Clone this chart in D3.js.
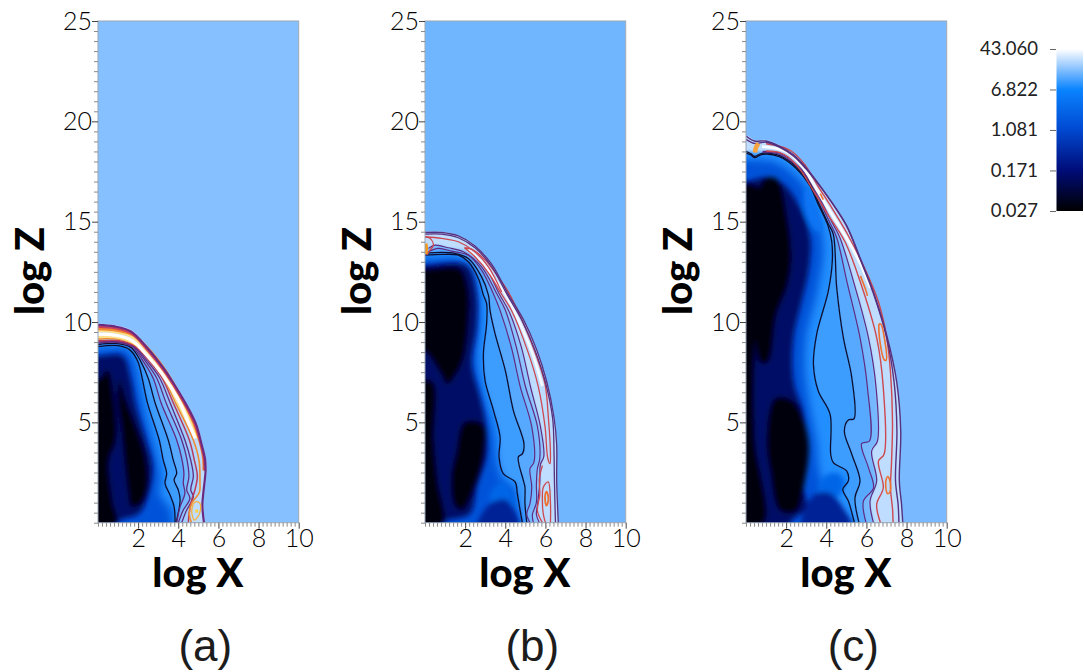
<!DOCTYPE html>
<html>
<head>
<meta charset="utf-8">
<script src="https://cdn.jsdelivr.net/npm/d3@7"></script>
<style>
  html, body { margin: 0; background: #fff; }
  text { fill: #1c1c1c; }
</style>
</head>
<body>
<div id="chart"></div>
<script>
// all curves are [log X, log Z]

const legendTicks = ["43.060", "6.822", "1.081", "0.171", "0.027"]
const colorDomain = [0.027, 0.171, 1.081, 6.822, 20, 43.06]
const colorStops = ["#000000", "#000c78", "#0048d0", "#0a84ff", "#9ccbff", "#ffffff"]

const zTicks = [5, 10, 15, 20, 25]
const xTicks = [2, 4, 6, 8, 10]
const panelNames = ["(a)", "(b)", "(c)"]
const backgroundLevels = [17, 14.5, 15.3]

// levels of the nested shells, outermost first, then mid, navy, black of the cavity
const shellLevels = [26, 24, 21, 18, 15, 12, 10, 8]
const cavityLevels = [1.5, 0.13, 0.03]

// ---- panel a
const aEdge = [[0,9.93],[0.83,9.85],[1.66,9.6],[2.49,8.77],[3,8.1],[3.34,7.7],[3.74,7.1],[4.43,5.95],[4.93,4.95],[5.23,3.85],[5.38,3.2],[5.41,2.6],[5.3,1.5],[5.25,0.88],[5.33,0]]
const aMid = [[0,8.69],[1.4,8.69],[1.81,8.11],[2.1,6.78],[2.4,5.28],[2.95,3.29],[3.14,2.13],[3.06,1.46],[3.64,0.63],[3.72,0]]
const aNavy = [[0,8.3],[1.23,8.3],[1.6,7.3],[1.9,5.8],[2.4,4.1],[2.72,2.8],[2.48,1.3],[2.06,0.47],[0.93,0]]
const aBlack = [
  [[0,7.15],[0.48,7.6],[0.81,6.1],[0.9,4.1],[0.56,3.1],[0.73,1.1],[0.93,0],[-0.5,0],[-0.5,7.15]],
  [[1.06,7.1],[1.4,6.1],[1.9,4.8],[2.39,3.3],[2.48,1.8],[2.15,0.96],[1.65,0.8],[1.48,1.6],[1.31,3.1],[1.15,4.8],[0.98,6.1]]
]
const aContours = [
  [[0,8.77],[1,8.82],[1.6,8.6],[2,8],[2.2,7.2],[2.47,5.95],[3.05,4.12],[3.25,3.12],[3.42,2.46],[3.34,1.96],[3.59,1.38],[3.79,0.8],[3.84,0]],
  [[0,8.88],[1,8.92],[1.66,8.72],[2.15,8],[2.5,7.2],[2.85,5.95],[3.5,4.12],[3.75,3.12],[3.92,2.46],[3.79,2.13],[4,1.63],[4.09,1.13],[3.89,0]],
  [[0,8.95],[1,8.98],[1.7,8.77],[2.28,8],[2.75,7.2],[3.15,5.95],[3.92,4.12],[4.17,3.2],[4.28,2.46],[4.25,1.96],[4.33,1.46],[4.09,0.8],[3.92,0]],
  [[0,9],[1,9.02],[1.75,8.78],[2.4,8],[2.93,7.2],[3.4,5.95],[4.17,4.12],[4.42,3.2],[4.53,2.3],[4.42,1.63],[4.58,1.21],[4.25,0.63],[4,0]],
  [[0,9.03],[1,9.05],[1.8,8.78],[2.5,8],[3.08,7.2],[3.6,5.95],[4.33,4.12],[4.62,3.12],[4.75,2.3],[4.62,1.63],[4.75,1.3],[4.38,0.55],[4.17,0]],
  [[0,9.05],[1,9.08],[1.85,8.8],[2.6,8],[3.2,7.2],[3.76,5.95],[4.55,4.12],[4.8,3.12],[4.95,2.3],[4.83,1.63],[4.67,1.13],[4.55,0.55],[4.5,0]],
  [[0,9.15],[1,9.15],[1.9,8.82],[2.68,8],[3.28,7.2],[3.88,5.95],[4.75,4.12],[5.03,3.12],[5.08,2],[5.05,1.5],[4.67,0.97],[4.55,0.4],[4.66,0]]
]
const aBand = [
  [[0,9.25],[1,9.22],[1.95,8.85],[2.78,8],[3.36,7.2],[3.98,5.95],[4.62,4.7]],
  [[0,9.55],[0.8,9.5],[1.7,9.25],[2.6,8.4],[3.3,7.5],[4.2,6],[4.65,5],[4.95,4.2]],
  [[0,9.66],[0.8,9.6],[1.75,9.35],[2.68,8.47],[3.4,7.52],[4.28,5.98],[4.75,5],[5.07,4.05],[5.25,3.2],[5.27,2.6]],
  [[0,9.4],[0.8,9.35],[1.66,9.1],[2.5,8.27],[3.2,7.4],[4.09,5.95],[4.5,5],[4.85,4.2]],
  [[0,9.76],[0.83,9.7],[1.66,9.44],[2.45,8.62],[3.28,7.58],[4.33,5.9],[4.83,4.9],[5.14,3.85],[5.28,3.2],[5.31,2.6]],
  [[0,9.86],[0.83,9.78],[1.64,9.53],[2.46,8.71],[3.3,7.65],[3.7,7.05],[4.38,5.92],[4.88,4.92],[5.18,3.83],[5.33,3.2],[5.36,2.6],[5.25,1.5],[5.2,0.88],[5.28,0]]
]
const aLoops = [
  [[4.75,0.96],[4.67,0.55],[4.8,0.13],[4.98,0.3],[5.1,0.6],[5.08,0.96],[4.9,1.05],[4.75,0.96]]
]
const aSpot = [[4.92,0.5],[4.92,0.66]]

// ---- panel b
const bEdge = [[0,14.5],[0.83,14.5],[1.66,14.33],[2.49,13.83],[3.32,12.92],[4.15,11.42],[4.9,10.17],[5.56,8.67],[6.06,7.09],[6.43,5.27],[6.56,3.94],[6.56,2.11],[6.6,0.95],[6.64,0]]
const bMid = [[0,13.16],[1.91,13.08],[2.5,12.26],[2.75,10.1],[2.6,8.1],[2.95,6.3],[3.45,4.45],[3.57,3.12],[3.9,2.1],[4.4,1.76],[4.57,0.95],[4.74,0]]
const bNavy = [[0,12.82],[2.08,12.82],[2.57,11.4],[2.57,9.75],[2.33,7.92],[2.74,6.26],[2.99,5.1],[3.07,3.4],[2.58,1.78],[2.24,0.45],[0.91,0]]
const bBlack = [
  [[0.17,12.66],[1.74,12.66],[2.16,11.58],[2.16,9.92],[1.83,7.92],[1.1,6.9],[0.8,7.4],[0,8.5],[-0.5,8.5],[-0.5,12.66]],
  [[-0.5,7],[0.4,7],[0.45,4.2],[0.65,2],[0.9,0],[-0.5,0]],
  [[1.95,5],[2.9,4.9],[2.95,3.5],[2.45,1.7],[1.9,0.65],[1.5,0.8],[1.3,2.2],[1.55,3.5]]
]
const bGlow = [[3.6,1.9],[3.95,2.05],[4.3,1.5],[4.5,0.9],[3.6,0.95],[3.2,1.2]]
const bDeep = [[3.2,0.9],[4,1.15],[4.4,0.7],[4.7,-0.3],[2.6,-0.3]]
const bContours = [
  [[0,13.33],[0.83,13.37],[1.66,13.33],[2.16,13],[2.66,12.17],[2.91,11.34],[3.07,10.92],[3.07,9.92],[2.91,8.42],[2.99,7.09],[3.41,5.6],[3.74,4.27],[3.69,3.27],[3.9,2.44],[4.49,2.03],[4.6,1.45],[4.74,0.61],[4.85,0]],
  [[0,13.42],[0.83,13.47],[1.5,13.42],[2.16,13.17],[2.82,12.25],[3.16,11.34],[3.24,10.58],[3.49,9.42],[4,7.59],[4.4,5.6],[4.93,3.94],[4.86,3.44],[4.65,3.27],[4.9,2.11],[4.98,1.78],[4.98,0.95],[5.07,0]],
  [[0.17,13.5],[0.66,13.67],[1.33,13.53],[2.16,13.33],[2.82,12.59],[3.4,11.42],[3.74,10.58],[4.3,8.75],[4.75,6.76],[5.32,4.77],[5.43,3.02],[5.23,2.69],[5.32,1.78],[5.23,0.95],[5.07,0.45],[5.23,0]],
  [[0.17,13.67],[0.5,13.83],[1.16,13.7],[1.91,13.5],[2.82,12.75],[3.57,11.42],[4,10.6],[4.55,8.75],[5,6.8],[5.6,4.8],[5.72,3.2],[5.6,2.7],[5.55,1.9],[5.55,1],[5.35,0.4],[5.4,0]],
  [[2.2,13.55],[2.95,12.85],[3.7,11.4],[4.2,10.5],[4.8,8.75],[5.25,6.8],[5.75,4.8],[5.92,3.3],[5.75,2.9],[5.72,2],[5.62,1],[5.55,0.4],[5.7,0]]
]
const bCore = [[2.16,13.58],[2.82,13],[3.49,12.09],[3.99,11.42],[4.7,10],[5.4,8.3],[5.85,6.8]]
const bReds = [
  [[1.96,13.7],[2.32,13.63],[3,13.09],[3.65,12.25],[4.15,11.5],[5,9.7],[5.55,8.3],[5.98,6.9],[6.15,5.2],[6.25,3.5],[6.23,2.94],[6.12,3.2],[5.98,4.8],[5.65,6.76],[5.1,8.6],[4.3,10.6],[3.74,11.5],[3.24,12.34],[2.49,13.25],[1.96,13.7]],
  [[0,14.25],[0.83,14.17],[1.66,14],[2.49,13.5],[3.16,12.75],[3.82,11.5]],
  [[0,14.25],[0.25,14.17],[0.42,13.83],[0.25,13.58],[0.08,13.33]],
  [[6,0],[5.9,0.4],[5.85,1],[5.9,1.78],[6.14,2.03],[6.25,1],[6.25,0]],
  [[5.85,0],[5.6,0.6],[5.72,1.4],[5.7,2.2],[5.85,2.85]]
]
const bPurple = [
  [[0,14.38],[0.83,14.38],[1.66,14.2],[2.49,13.7],[3.3,12.8],[4.1,11.35],[4.85,10.05],[5.5,8.55],[6,7],[6.36,5.2],[6.43,3.4],[6.45,2],[6.5,0]],
  [[0,14.46],[0.83,14.46],[1.66,14.29],[2.49,13.79],[3.32,12.88],[4.15,11.38],[4.9,10.13],[5.56,8.63],[6.06,7.05],[6.43,5.23],[6.56,3.9],[6.56,2.11],[6.6,0.95],[6.64,0]]
]
const bOrange = [
  [[6,0.98],[5.98,1.3],[6.05,1.55],[6.14,1.3],[6.12,0.98],[6.05,0.85],[6,0.98]]
]
const bHot = [[0,13.4],[0.03,13.65],[0,13.9]]

// ---- panel c
const cEdge = [[0,19.32],[0.42,19.07],[1,19.07],[1.66,18.82],[2.33,18.41],[2.99,17.74],[3.82,16.66],[4.98,14.92],[5.7,13.2],[6.35,11.54],[7.01,9.39],[7.51,7.06],[7.71,4.57],[7.64,2.08],[7.75,0.91],[7.81,0]]
const cMid = [[0,18.1],[1.53,17.94],[2.86,16.86],[3.52,15.36],[3.85,13.7],[3.52,11.37],[3.02,9.39],[2.94,7.56],[3.19,5.73],[3.52,4.07],[3.69,2.41],[4.7,0]]
const cNavy = [[0,17],[1.03,17.2],[1.86,16.86],[2.69,15.7],[3.19,14.2],[3.11,12.54],[2.69,10.71],[2.36,9.22],[2.36,7.06],[2.86,5.4],[3.02,3.41],[2.86,1.74],[3.02,0.75],[2.2,0]]
const cBlack = [
  [[-0.5,16.69],[0.66,16.69],[0.7,14],[0.45,9.2],[0.45,4.2],[0.9,0],[-0.5,0]],
  [[0.86,17.1],[1.55,17.1],[2.1,15],[2.26,13],[2.03,11.7],[1.53,10.4],[1.1,8],[0.7,8],[0.5,13]],
  [[1.45,6.2],[2.36,6.05],[3.1,4.1],[2.86,1.74],[2.53,0.58],[1.7,0.58],[1.2,2.6],[1.03,4.2]]
]
const cGlow = [[3.7,2.1],[4.4,2.5],[4.9,2.1],[4.6,1.3],[3.9,1.1],[3.6,1.5]]
const cDeep = [[3.3,1.3],[4.1,1.5],[4.8,0.8],[5.3,-0.3],[2.8,-0.3]]
const cBright = [[3,16.8],[3.5,15.7],[3.75,14.5],[3.4,14.6],[2.9,15.7]]
const cContours = [
  [[0,18.41],[0.25,18.32],[0.42,18.19],[0.83,18.36],[1.66,18.24],[2.49,17.66],[3.16,16.83],[3.57,15.92],[4.07,14.84],[4.27,14.03],[4.3,13.04],[4.1,11.54],[3.52,9.39],[3.36,7.89],[3.6,6.56],[4.19,5.4],[4.22,3.41],[4.35,2.99],[5.02,2.57],[5.1,2.08],[4.82,1.66],[5.1,1.08],[5.4,0]],
  [[0,18.5],[0.25,18.38],[0.42,18.25],[0.83,18.42],[1.66,18.3],[2.52,17.72],[3.2,16.88],[3.6,15.98],[4.1,14.9],[4.35,14.37],[4.52,11.71],[4.85,9.22],[5.27,7.23],[5.38,5.18],[5.1,5.12],[4.9,4.57],[5.27,3.41],[5.68,2.08],[5.43,1.25],[5.63,0]],
  [[0.83,18.47],[1.66,18.36],[2.56,17.75],[3.25,16.9],[3.68,16],[4.18,14.95],[4.52,14.2],[5.02,12.04],[5.68,9.22],[6.05,6.73],[6.15,4.07],[5.76,3.94],[6.1,2.74],[6.35,1.74],[5.85,1.08],[5.98,0]],
  [[0.83,18.5],[1.66,18.42],[2.6,17.78],[3.3,16.9],[3.76,16],[4.27,15],[4.68,14.2],[5.35,12.04],[6.1,9.22],[6.48,6.73],[6.55,4.07],[6.26,3.57],[6.51,2.08],[6.18,1.08],[6.35,0]]
]
const cReds = [
  [[1,18.52],[1.66,18.45],[2.1,18.22],[2.72,17.57],[3.38,16.5],[4.05,15.4],[4.93,14],[5.68,12.04],[6.51,9.22],[6.84,6.73],[6.88,3.41],[6.6,3.07],[6.84,1.74],[6.51,0.91],[6.7,0]],
  [[1,18.88],[1.7,18.75],[2.25,18.52],[2.92,17.85],[3.6,16.75],[4.27,15.7],[5.1,14.3],[5.9,12.7],[6.6,11],[7,9.3],[7.2,7.5],[7.3,5],[7.25,3],[7.2,1.7],[7.3,0.7],[7.33,0]]
]
const cCore = [[0.8,18.74],[1.66,18.62],[2.16,18.41],[2.82,17.74],[3.49,16.66],[4.15,15.58],[5,14.2],[5.7,12.9],[6.2,11.7]]
const cPurple = [
  [[0,19.1],[0.42,18.9],[1,18.96],[1.66,18.72],[2.36,18.28],[3,17.62],[3.85,16.55],[5,14.8],[5.7,13.1],[6.35,11.42],[7,9.25],[7.38,7],[7.52,4.57],[7.45,2.08],[7.58,0.91],[7.62,0]],
  [[0,19.27],[0.42,19.02],[1,19.02],[1.66,18.77],[2.33,18.36],[2.99,17.69],[3.82,16.61],[4.98,14.87],[5.7,13.15],[6.35,11.49],[7.01,9.34],[7.51,7.01],[7.71,4.57],[7.64,2.08],[7.75,0.91],[7.81,0]]
]
const cOrange = [
  [[6.98,1.65],[6.97,2.1],[7.07,2.3],[7.2,1.95],[7.15,1.5],[7.05,1.45],[6.98,1.65]],
  [[6.62,9.9],[6.65,9.2],[6.9,8.1],[6.98,8.1],[6.88,9.3],[6.72,9.9],[6.62,9.9]],
  [[5.7,12.3],[6,11.5],[6.05,11.3]],
  [[3.7,16.4],[3.85,16.1]]
]
const cHot = [[0.45,18.45],[0.5,18.7],[0.62,18.9]]

// ---- drawing

const width = 1084
const height = 672
const plotTop = 21
const plotBottom = 522.7
const plotLefts = [98, 425, 746]
const plotWidth = 200.7

const svg = d3.select("#chart").append("svg")
  .attr("width", width)
  .attr("height", height)
  .style("display", "block")

const color = d3.scaleLog().domain(colorDomain).range(colorStops).interpolate(d3.interpolateRgb)

const defs = svg.append("defs")
const addBlur = (id, amount) => defs.append("filter").attr("id", id)
  .attr("x", "-30%").attr("y", "-30%").attr("width", "160%").attr("height", "160%")
  .append("feGaussianBlur").attr("stdDeviation", amount)
addBlur("wide", 4.5)
addBlur("soft", 2.8)
addBlur("softer", 0.8)
addBlur("slight", 0.4)

const dark = "#0b0f30", purple = "#5f2c80", red = "#cd4850", orange = "#f08a30", pale = "#ffe08a"

const panels = [
  { edge: aEdge, shells: aContours.slice().reverse(), mid: aMid, navy: aNavy, black: aBlack, glow: [], deep: [], bright: [],
    lines: [
      [aContours.slice(0, 2), dark, 1.3],
      [aContours.slice(2, 5), purple, 1.3],
      [aContours.slice(5, 6), "#b83a5c", 1.5],
      [aContours.slice(6), orange, 1.6],
      [aBand.slice(0, 1), pale, 2.4],
      [aBand.slice(1, 2), pale, 2.6],
      [aBand.slice(2, 3), "#f08a30", 2.6],
      [aBand.slice(4, 5), "#c8405c", 2.4],
      [aBand.slice(3, 4), "#ffffff", 3.2],
      [aBand.slice(5), "#6a2a80", 2.2],
      [aLoops, "#f4b23e", 1.3],
      [[aSpot], "#ffd040", 3]
    ] },
  { edge: bEdge, shells: bContours.slice().reverse(), mid: bMid, navy: bNavy, black: bBlack, glow: bGlow, deep: bDeep, bright: [],
    lines: [
      [bContours.slice(0, 2), dark, 1.3],
      [bContours.slice(2), purple, 1.2],
      [[bCore], "#f4f9ff", 2.8],
      [bReds, red, 1.3],
      [bPurple, "#55307e", 1.3],
      [bOrange, "#f0702e", 1.8],
      [[bHot], "#f59a1e", 5]
    ] },
  { edge: cEdge, shells: cContours.slice().reverse(), mid: cMid, navy: cNavy, black: cBlack, glow: cGlow, deep: cDeep, bright: cBright,
    lines: [
      [cContours.slice(0, 2), dark, 1.3],
      [cContours.slice(2), purple, 1.2],
      [[cCore], "#f8fbff", 3],
      [cReds, red, 1.4],
      [cPurple, "#55307e", 1.4],
      [cOrange, "#f0702e", 1.6],
      [[cHot], "#f6a23c", 4.5]
    ] }
]

panels.forEach((p, i) => {
  const x = d3.scaleLinear().domain([0, 10]).range([plotLefts[i], plotLefts[i] + plotWidth])
  const y = d3.scaleLinear().domain([0, 25]).range([plotBottom, plotTop])

  const curve = d3.line().x(d => x(d[0])).y(d => y(d[1])).curve(d3.curveCatmullRom.alpha(0.5))
  const blob = d3.line().x(d => x(d[0])).y(d => y(d[1])).curve(d3.curveCatmullRomClosed.alpha(0.5))

  // close a front curve through the axes, outside the plot so the blur has no seam
  const closed = pts => [[-1, pts[0][1]], ...pts, [pts[pts.length - 1][0], -1], [-1, -1]]

  defs.append("clipPath").attr("id", `clip${i}`)
    .append("rect")
      .attr("x", x(0)).attr("y", y(25))
      .attr("width", x(10) - x(0)).attr("height", y(0) - y(25))

  const g = svg.append("g")
  const field = g.append("g").attr("clip-path", `url(#clip${i})`)

  field.append("rect")
    .attr("x", x(0)).attr("y", y(25))
    .attr("width", x(10) - x(0)).attr("height", y(0) - y(25))
    .attr("fill", color(backgroundLevels[i]))

  field.append("path").attr("d", curve(closed(p.edge))).attr("fill", color(shellLevels[0]))

  // shells step from the top of the list to the wall, the last always gets the deepest level
  const inner = field.append("g").attr("filter", "url(#softer)")
  p.shells.forEach((s, k) => {
    const level = shellLevels[shellLevels.length - p.shells.length + k]
    inner.append("path").attr("d", curve(closed(s))).attr("fill", color(level))
  })

  field.append("path")
    .attr("d", curve(closed(p.mid)))
    .attr("fill", color(cavityLevels[0]))
    .attr("filter", "url(#wide)")

  const cavity = field.append("g").attr("filter", "url(#soft)")
  cavity.append("path").attr("d", curve(closed(p.navy))).attr("fill", color(cavityLevels[1]))
  if (p.glow.length) cavity.append("path").attr("d", blob(p.glow)).attr("fill", color(cavityLevels[0] * 1.8))
  if (p.deep.length) cavity.append("path").attr("d", blob(p.deep)).attr("fill", color(cavityLevels[1] * 2.5))
  if (p.bright.length) cavity.append("path").attr("d", blob(p.bright)).attr("fill", color(cavityLevels[0] * 3))
  cavity.selectAll(".black").data(p.black).enter().append("path")
    .attr("class", "black")
    .attr("d", d => blob(d))
    .attr("fill", color(cavityLevels[2]))

  const strokes = field.append("g").attr("filter", "url(#slight)")
  p.lines.forEach(([curves, stroke, w]) => {
    strokes.selectAll(null).data(curves).enter().append("path")
      .attr("d", d => curve(d))
      .attr("fill", "none")
      .attr("stroke", stroke)
      .attr("stroke-width", w)
  })

  // frame
  g.append("rect")
    .attr("x", x(0)).attr("y", y(25))
    .attr("width", x(10) - x(0)).attr("height", y(0) - y(25))
    .attr("fill", "none")
    .attr("stroke", "#9aa6b4")
    .attr("stroke-width", 1)

  // axes
  const yAxis = d3.axisLeft(y)
    .tickValues(d3.range(0, 25.01, 0.5))
    .tickSize(4)
    .tickFormat(d => zTicks.includes(d) ? d : "")
  const gy = g.append("g").attr("transform", `translate(${x(0)},0)`).call(yAxis)

  const xAxis = d3.axisBottom(x)
    .tickValues(d3.range(0, 10.01, 0.2).map(d => +d.toFixed(1)))
    .tickSize(4)
    .tickFormat(d => xTicks.includes(d) ? d : "")
  const gx = g.append("g").attr("transform", `translate(0,${y(0)})`).call(xAxis)

  for (const axis of [gx, gy]) {
    axis.select(".domain").remove()
    axis.selectAll(".tick line").attr("stroke", "#8a8a8a").attr("stroke-width", 1)
    axis.selectAll(".tick text")
      .attr("font-family", "Lato")
      .attr("font-weight", 300)
      .attr("font-size", 25)
      .style("fill", "#000")
    axis.selectAll(".tick text").filter(function () { return this.textContent === "" }).remove()
  }
  gy.selectAll(".tick text").attr("x", -6)
  gx.selectAll(".tick text").attr("y", 7)
  gy.selectAll(".tick")
    .filter(d => zTicks.includes(d))
    .select("line").attr("x2", -6).attr("stroke", "#444")
  gx.selectAll(".tick")
    .filter(d => xTicks.includes(d))
    .select("line").attr("y2", 6).attr("stroke", "#444")

  g.append("text")
    .attr("x", x(5) - 0.5).attr("y", 587)
    .attr("text-anchor", "middle")
    .attr("font-family", "Lato").attr("font-weight", 900).attr("font-size", 40)
    .style("fill", "#000")
    .text("log X")

  g.append("text")
    .attr("transform", `translate(${plotLefts[i] - 54},271) rotate(-90)`)
    .attr("text-anchor", "middle")
    .attr("font-family", "Lato").attr("font-weight", 900).attr("font-size", 40)
    .style("fill", "#000")
    .text("log Z")

  g.append("text")
    .attr("x", x(5) + 7).attr("y", 661)
    .attr("text-anchor", "middle")
    .attr("font-family", "Liberation Sans").attr("font-size", 44)
    .text(panelNames[i])
})

// ---- colour bar
const legendY = d3.scaleLog().domain([0.027, 43.06]).range([211, 49])
const gradient = defs.append("linearGradient").attr("id", "bar")
  .attr("x1", 0).attr("y1", 1).attr("x2", 0).attr("y2", 0)
gradient.selectAll("stop").data(colorDomain).enter().append("stop")
  .attr("offset", d => (211 - legendY(d)) / (211 - 49))
  .attr("stop-color", d => color(d))

svg.append("rect")
  .attr("x", 1056.5).attr("y", legendY(43.06))
  .attr("width", 26.5).attr("height", 211 - 49)
  .attr("fill", "url(#bar)")

const legendAxis = d3.axisLeft(legendY)
  .tickValues(legendTicks.map(Number))
  .tickFormat(d => legendTicks.find(t => +t === d))
  .tickSize(6)
const gl = svg.append("g").attr("transform", "translate(1056,0)").call(legendAxis)
gl.select(".domain").remove()
gl.selectAll(".tick line").attr("stroke", "#666")
gl.selectAll(".tick text")
  .attr("x", -18)
  .attr("font-family", "Lato")
  .attr("font-weight", 400)
  .attr("font-size", 18.5)
  .style("fill", "#222")
</script>
</body>
</html>
